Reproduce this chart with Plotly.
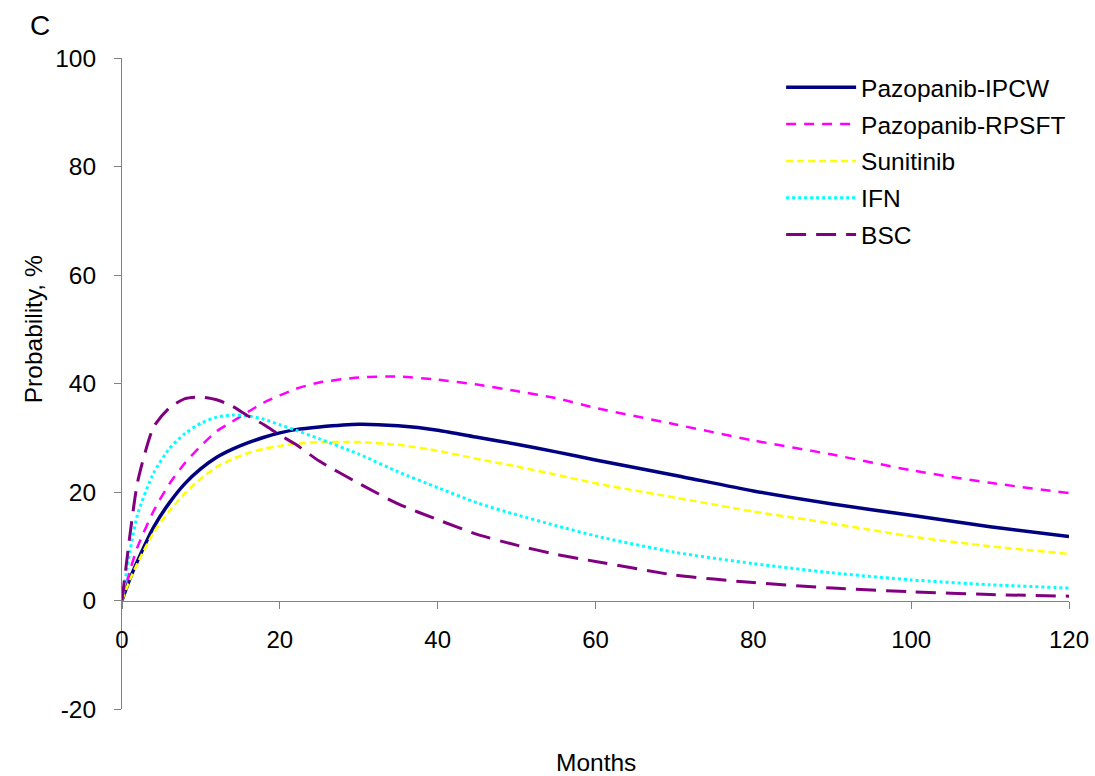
import plotly.graph_objects as go

# Months at which each curve is sampled
months = [0, 1, 2, 4, 6, 8, 10, 12, 14, 16, 18, 20, 22, 25, 30, 35, 40, 45, 50,
          55, 60, 70, 80, 90, 100, 110, 120]

pazopanib_ipcw = [0, 4.0, 7.4, 13.5, 18.0, 21.6, 24.3, 26.4, 27.9, 29.1, 30.1, 30.9,
                  31.5, 32.0, 32.5, 32.2, 31.4, 30.1, 28.8, 27.4, 25.9, 23.1, 20.2,
                  17.8, 15.7, 13.6, 11.8]
pazopanib_rpsft = [0, 5.5, 10.0, 16.5, 21.5, 25.4, 28.5, 31.2, 33.0, 34.8, 36.5, 37.8,
                   39.0, 40.2, 41.1, 41.3, 40.7, 39.8, 38.6, 37.3, 35.5, 32.5, 29.5,
                   26.9, 24.0, 21.7, 19.8]
sunitinib = [0, 3.8, 7.0, 12.5, 16.5, 19.8, 22.5, 24.6, 26.1, 27.2, 28.0, 28.5, 28.9,
             29.2, 29.2, 28.7, 27.6, 26.1, 24.7, 23.2, 21.6, 19.0, 16.4, 14.2, 11.8,
             10.0, 8.6]
ifn = [0, 9.0, 16.0, 23.5, 28.0, 30.8, 32.7, 33.8, 34.2, 34.0, 33.4, 32.4, 31.4, 29.8,
       27.0, 23.7, 20.8, 18.0, 15.8, 13.8, 11.9, 8.9, 6.8, 5.1, 3.8, 2.9, 2.3]
bsc = [0, 12.0, 22.0, 32.0, 35.5, 37.2, 37.5, 37.0, 35.8, 34.0, 32.4, 30.5, 28.8, 25.7,
       21.6, 17.8, 14.9, 12.2, 10.2, 8.5, 7.2, 4.7, 3.3, 2.3, 1.6, 1.1, 0.8]

x_ticks = [0, 20, 40, 60, 80, 100, 120]
y_ticks = [-20, 0, 20, 40, 60, 80, 100]
y_tick_labels = ["-20", "0", "20", "40", "60", "80", "100"]

FONT = "Liberation Sans, Arial, sans-serif"
AXIS_GREY = "#808080"

series = [
    ("Pazopanib-IPCW", pazopanib_ipcw, "#000080", 3.5, "solid"),
    ("Pazopanib-RPSFT", pazopanib_rpsft, "#FF00FF", 2.5, "10px,8px"),
    ("Sunitinib", sunitinib, "#FFFF00", 2.5, "7px,4px"),
    ("IFN", ifn, "#00FFFF", 3, "dot"),
    ("BSC", bsc, "#800080", 3, "20px,10px"),
]

fig = go.Figure()
for name, values, color, width, dash in series:
    fig.add_trace(go.Scatter(
        x=months, y=values, name=name, legendgroup=name, mode="lines",
        line=dict(color=color, width=width, dash=dash, shape="spline", smoothing=0.6),
    ))

W, H = 1095, 776
L, R, T, B = 122, 26, 58, 67
plot_w, plot_h = W - L - R, H - T - B

fig.update_layout(
    width=W, height=H,
    margin=dict(l=L, r=R, t=T, b=B, autoexpand=False),
    paper_bgcolor="white", plot_bgcolor="white",
    font=dict(family=FONT, size=25, color="black"),
    showlegend=True,
    legend=dict(
        x=0.696, y=0.9896, xanchor="left", yanchor="top",
        bgcolor="rgba(0,0,0,0)", borderwidth=0,
        font=dict(size=24.5), itemwidth=70, tracegroupgap=2,
    ),
    xaxis=dict(
        range=[0, 120], tickvals=x_ticks, ticks="outside", ticklen=7,
        tickcolor=AXIS_GREY, showline=True, linecolor=AXIS_GREY, linewidth=1,
        showgrid=False, zeroline=False, anchor="free", position=1 / 6,
        tickfont=dict(size=24), ticklabelstandoff=11,
    ),
    yaxis=dict(
        range=[-20, 100], tickvals=y_ticks, ticktext=y_tick_labels,
        ticks="outside", ticklen=7,
        tickcolor=AXIS_GREY, showline=True, linecolor=AXIS_GREY, linewidth=1,
        showgrid=False, zeroline=False, tickfont=dict(size=24.5),
        ticklabelstandoff=13,
    ),
    annotations=[
        dict(text="C", x=(28 - L) / plot_w, y=1 + 33 / plot_h,
             xref="paper", yref="paper", showarrow=False,
             font=dict(size=28), xanchor="left", yanchor="middle"),
        dict(text="Probability, %", x=0, y=50, xref="paper", yref="y",
             xshift=-89, textangle=-90, showarrow=False, font=dict(size=24.5),
             xanchor="center", yanchor="middle"),
        dict(text="Months", x=0.5, y=0, xref="paper", yref="paper", yshift=-53,
             showarrow=False, font=dict(size=24.5), xanchor="center",
             yanchor="middle"),
    ],
)

fig.write_html("out.html")
